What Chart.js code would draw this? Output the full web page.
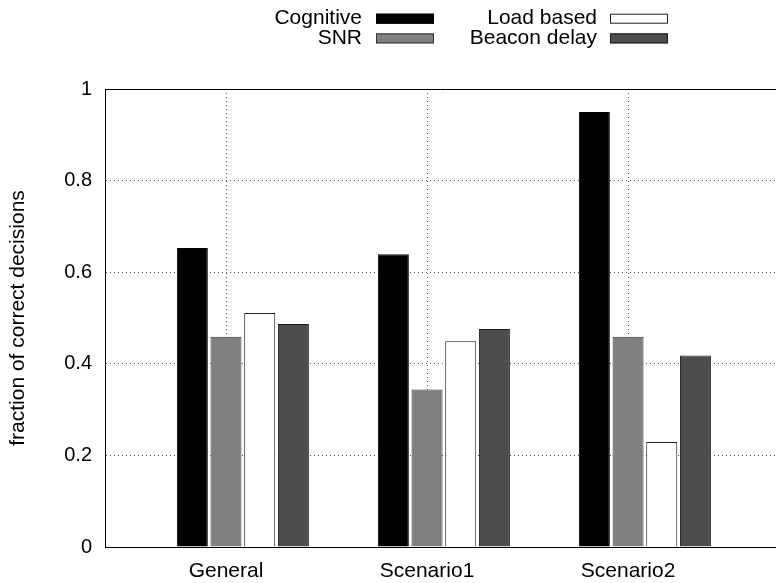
<!DOCTYPE html>
<html>
<head>
<meta charset="utf-8">
<script src="https://cdn.jsdelivr.net/npm/chart.js@4"></script>
<style>
  html, body { margin: 0; padding: 0; background: #fff; }
</style>
</head>
<body>
<canvas id="chart" width="776" height="583"></canvas>
<script>
// values
const categories = ['General', 'Scenario1', 'Scenario2'];
const seriesNames = ['Cognitive', 'SNR', 'Load based', 'Beacon delay'];
const cognitive = [0.653, 0.639, 0.950];
const snr = [0.459, 0.344, 0.459];
const loadBased = [0.511, 0.449, 0.229];
const beaconDelay = [0.487, 0.476, 0.418];
const yTicks = [0, 0.2, 0.4, 0.6, 0.8, 1];

// styles
const fills = ['#000000', '#808080', '#ffffff', '#4d4d4d'];
const edges = ['#000000', '#333333', '#222222', '#1a1a1a'];
const FONT = '"Liberation Sans", Arial, sans-serif';
const font = { family: FONT, size: 21 };

const series = [cognitive, snr, loadBased, beaconDelay];

// gnuplot puts the tick under the 2nd bar, so an empty slot goes first
const datasets = [{
  label: '',
  data: categories.map((c, i) => ({ x: i, y: null })),
  backgroundColor: 'rgba(0,0,0,0)',
  borderWidth: 0
}].concat(series.map((vals, k) => ({
  label: seriesNames[k],
  data: vals.map((v, i) => ({ x: i, y: v })),
  backgroundColor: fills[k],
  borderColor: edges[k],
  borderWidth: 1
})));

// top frame line + gnuplot style key (text left of sample)
const frameAndKey = {
  id: 'frameAndKey',
  afterDraw(chart) {
    const { ctx, chartArea: a } = chart;
    ctx.save();
    ctx.strokeStyle = '#000';
    ctx.lineWidth = 1;
    ctx.beginPath();
    ctx.moveTo(a.left, a.top + 0.5);
    ctx.lineTo(a.right, a.top + 0.5);
    ctx.stroke();

    ctx.font = '21px ' + FONT;
    ctx.textAlign = 'right';
    ctx.textBaseline = 'middle';
    const textRight = [362, 597], boxLeft = [376, 610], rowY = [18.7, 38.4];
    seriesNames.forEach((name, k) => {
      const col = Math.floor(k / 2), row = k % 2;
      ctx.fillStyle = '#000';
      ctx.fillText(name, textRight[col], rowY[row]);
      ctx.fillStyle = fills[k];
      ctx.fillRect(boxLeft[col], rowY[row] - 5, 58, 10);
      ctx.strokeStyle = edges[k];
      ctx.strokeRect(boxLeft[col] + 0.5, rowY[row] - 4.5, 57, 9);
    });
    ctx.restore();
  }
};

new Chart(document.getElementById('chart').getContext('2d'), {
  type: 'bar',
  data: { datasets },
  plugins: [frameAndKey],
  options: {
    responsive: false,
    animation: false,
    layout: { padding: { top: 89, right: 0, left: 0, bottom: 0 } },
    datasets: { bar: { categoryPercentage: 0.838, barPercentage: 0.92 } },
    plugins: { legend: { display: false }, tooltip: { enabled: false } },
    scales: {
      x: {
        type: 'linear',
        offset: false,
        min: -0.602,
        max: 2.736,
        afterBuildTicks: s => { s.ticks = categories.map((c, i) => ({ value: i })); },
        afterFit: s => { s.height = 36; },
        ticks: { callback: v => categories[v], font, color: '#000', padding: 12, maxRotation: 0, autoSkip: false },
        grid: { offset: false, color: '#555', drawTicks: false },
        border: { display: true, color: '#000', width: 1, dash: [1, 3] }
      },
      y: {
        min: 0,
        max: 1,
        afterBuildTicks: s => { s.ticks = yTicks.map(v => ({ value: v })); },
        afterFit: s => { s.width = 105; },
        ticks: { callback: v => String(v), font: { family: FONT, size: 20 }, color: '#000', padding: 13 },
        grid: { color: '#555', drawTicks: false },
        border: { display: true, color: '#000', width: 1, dash: [1, 3] },
        title: { display: true, text: 'fraction of correct decisions', font, color: '#000', padding: { top: 6, bottom: 0 } }
      }
    }
  }
});
</script>
</body>
</html>
